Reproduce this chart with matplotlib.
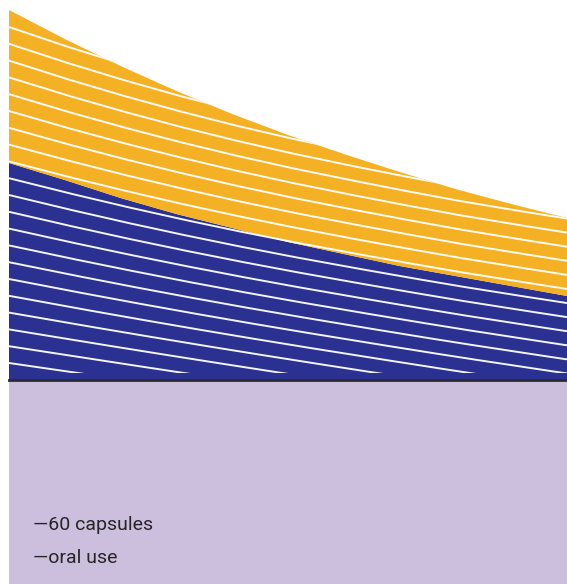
import numpy as np
import matplotlib
matplotlib.use("Agg")
import matplotlib.pyplot as plt
from matplotlib.patches import Polygon

# ---- data (height units = pixels above baseline) ----
x_pos = [0, 10, 20, 30, 40, 50, 60, 70, 80, 90, 100]
blue_vals = [217, 200, 182, 166, 152, 138, 126, 114, 104, 94, 84]
yellow_vals = [153, 141, 132, 123, 114, 107, 100, 94, 87, 82, 78]
labels = ["—60 capsules", "—oral use"]

YELLOW = "#F5B124"
BLUE = "#2A3190"
LAVENDER = "#CCBEDD"

W, H = 567, 584
fig = plt.figure(figsize=(W / 100, H / 100), dpi=100)
fig.patch.set_facecolor("white")

left = 9 / W

# lavender panel
ax2 = fig.add_axes([left, 0, 1 - left, 205 / H])
ax2.set_facecolor(LAVENDER)
ax2.set_xticks([])
ax2.set_yticks([])
for s in ax2.spines.values():
    s.set_visible(False)
ax2.set_xlim(0, 558)
ax2.set_ylim(205, 0)
fam = ["Roboto", "DejaVu Sans"]
ax2.text(24, 146, labels[0], fontsize=14, color="#262626", family=fam,
         va="center", ha="left")
ax2.text(24, 179, labels[1], fontsize=14, color="#262626", family=fam,
         va="center", ha="left")

ax = fig.add_axes([left, 204 / H, 1 - left, 380 / H])
ax.set_zorder(3)
ax.patch.set_alpha(0)
ax.set_xlim(0, 100)
ax.set_ylim(0, 380)
ax.axis("off")

x = np.array(x_pos, float)
b = np.array(blue_vals, float)
yv = np.array(yellow_vals, float)
ax.stackplot(x, b, yv, colors=[BLUE, YELLOW], linewidth=0)

# stripe pattern (decorative white lines clipped to the stacked area)
xs = np.linspace(0, 100, 400)
top = np.interp(xs, x, b + yv)          # height above baseline
top_px = 380 - top                       # pixel y of top curve
Dtop = 0.65 * (top_px - top_px[0])
Dbot = 0.145 * (xs * 5.58)
clip_poly = Polygon(np.column_stack([np.r_[xs, xs[::-1]],
                                     np.r_[top, np.full_like(xs, 7.0)]]),
                    closed=True, facecolor="none", edgecolor="none")
ax.add_patch(clip_poly)
for k in range(21):
    L = 27 + 16.8 * k
    w = min(max((L - 27) / 336, 0), 1)
    ypx = L + (1 - w) * Dtop + w * Dbot
    ln, = ax.plot(xs, 380 - ypx, color="white", lw=1.4, alpha=0.95,
                  solid_capstyle="butt")
    ln.set_clip_path(clip_poly)

ax.axhline(0, color="#2b2b2b", lw=2.0, clip_on=False)

fig.savefig("out.png", dpi=100)
